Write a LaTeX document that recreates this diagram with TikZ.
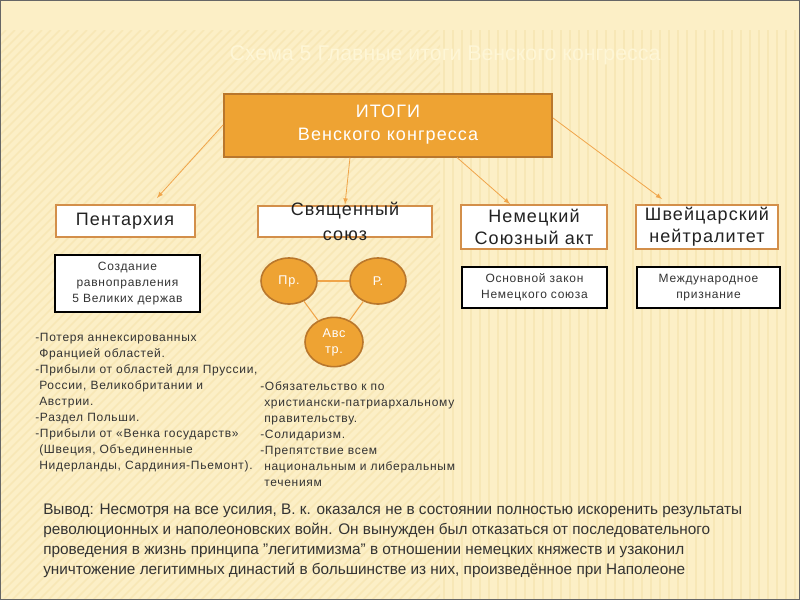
\documentclass[tikz,border=0pt]{standalone}
\usepackage{fontspec}
\setmainfont{Liberation Sans}
\newfontfamily\spaced[LetterSpace=6]{Liberation Sans}
\usepackage{tikz}
\usetikzlibrary{arrows, positioning, shapes.geometric}

\definecolor{paper}{HTML}{FCEFC6}
\definecolor{stripe}{HTML}{F3DEA4}
\definecolor{faint}{HTML}{FEF6D6}
\definecolor{boxfill}{HTML}{EEA333}
\definecolor{boxedge}{HTML}{B9772C}
\definecolor{headedge}{HTML}{D38F4A}
\definecolor{linkorange}{HTML}{F0A54A}
\definecolor{textdark}{HTML}{222222}
\definecolor{textgray}{HTML}{333333}

\tikzset{
  mainbox/.style={draw=boxedge, line width=1.5pt, fill=boxfill, text=white,
    align=center, inner sep=0pt, font=\spaced\fontsize{13.5}{17.25}\selectfont},
  headbox/.style={draw=headedge, line width=1.5pt, fill=white, text=textdark,
    align=center, inner sep=0pt, font=\spaced\fontsize{13.5}{16.5}\selectfont},
  notebox/.style={draw=black, line width=1.2pt, fill=white, text=textgray,
    align=center, inner sep=0pt, font=\spaced\fontsize{9}{12.2}\selectfont},
  power/.style={ellipse, draw=boxedge, line width=1.2pt, fill=boxfill, text=white,
    minimum width=42pt, minimum height=34.5pt, inner sep=0pt, align=center,
    font=\spaced\fontsize{9.5}{12}\selectfont},
  link/.style={draw=linkorange, line width=0.6pt, -latex},
  ring/.style={draw=linkorange, line width=0.8pt},
  listtext/.style={anchor=north west, align=left, inner sep=0pt, text=textgray,
    font=\spaced\fontsize{9}{12}\selectfont},
  streak/.style={draw=stripe, line width=1.1pt, opacity=0.45},
}

\begin{document}
\begin{tikzpicture}[x=0.75pt, y=-0.75pt]
% the background of the slide
\useasboundingbox (0,0) rectangle (800,600);
\fill[paper] (0,0) rectangle (800,600);
\begin{scope}
  \clip (0,30) rectangle (440,600);
  \foreach \i in {-600,-591,...,440}
    \draw[streak] (\i,600) -- ++(570,-570);
\end{scope}
\begin{scope}
  \clip (440,30) rectangle (800,600);
  \foreach \i in {444,453,...,800}
    \draw[streak] (\i,30) -- (\i,600);
\end{scope}
\draw[gray!80!black, line width=1pt] (0,0) rectangle (800,600);
% the faint title
\node[text=faint, font=\fontsize{16}{18}\selectfont] (title) at (445,55)
  {Схема 5 Главные итоги Венского конгресса};
% the main box
\node[mainbox, minimum width=246pt, minimum height=47.25pt] (main) at (388,125)
  {ИТОГИ\\Венского конгресса};
% the four headings
\node[headbox, minimum width=104.25pt, minimum height=24pt] (pent) at (125,221) {Пентархия};
\node[headbox, minimum width=130.5pt, minimum height=23.25pt,
  label={[align=center, text=textdark, font=\spaced\fontsize{13.5}{18.75}\selectfont]center:Священный\\союз}]
  (holy) at (345,221) {};
\node[headbox, minimum width=109.5pt, minimum height=33pt] (germ) at (534,227) {Немецкий\\Союзный акт};
\node[headbox, minimum width=106.5pt, minimum height=33pt] (swiss) at (707,227) {Швейцарский\\нейтралитет};
% the notes under the headings
\node[notebox, minimum width=108.75pt, minimum height=42.75pt] (equal) at (127.5,283.5)
  {Создание\\равноправления\\5 Великих держав};
\node[notebox, minimum width=108.75pt, minimum height=30.75pt] (law) at (534.5,287.5)
  {Основной закон\\Немецкого союза};
\node[notebox, minimum width=107.25pt, minimum height=30.75pt] (recog) at (708.5,287.5)
  {Международное\\признание};
% the three powers of the Holy Alliance
\node[power] (pr) at (289,281) {Пр.};
\node[power] (ru) at (378,281) {Р.};
\node[power, minimum width=43.5pt, minimum height=37pt] (au) at (334,342) {Авс\\тр.};
\foreach \a/\b in {pr/ru, pr/au, ru/au}
  \draw[ring] (\a) -- (\b);
% the arrows from the main box
\draw[link] (main.west) -- ([xshift=24pt, yshift=4.5pt]pent.north);
\draw[link] ([xshift=-28.5pt]main.south) -- (holy.north);
\draw[link] ([xshift=51.75pt]main.south) -- ([xshift=-18pt]germ.north);
\draw[link] ([yshift=5.25pt]main.east) -- ([xshift=-33.75pt, yshift=3.75pt]swiss.north);
% the lists
\node[listtext] (gains) at (35,333)
  {-Потеря аннексированных\\
   \phantom{-}Францией областей.\\
   -Прибыли от областей для Пруссии,\\
   \phantom{-}России, Великобритании и\\
   \phantom{-}Австрии.\\
   -Раздел Польши.\\
   -Прибыли от «Венка государств»\\
   \phantom{-}(Швеция, Объединенные\\
   \phantom{-}Нидерланды, Сардиния-Пьемонт).};
\node[listtext] (duty) at (260,381)
  {-Обязательство к по\\
   \phantom{-}христиански-патриархальному\\
   \phantom{-}правительству.\\
   -Солидаризм.\\
   -Препятствие всем\\
   \phantom{-}национальным и либеральным\\
   \phantom{-}течениям};
% the conclusion
\node[anchor=north west, align=left, inner sep=0pt, text=textgray,
  font=\fontsize{11.5}{15}\selectfont] (concl) at (43,504)
  {Вывод: Несмотря на все усилия, В. к. оказался не в состоянии полностью искоренить результаты\\
   революционных и наполеоновских войн. Он вынужден был отказаться от последовательного\\
   проведения в жизнь принципа \symbol{34}легитимизма\symbol{34} в отношении немецких княжеств и узаконил\\
   уничтожение легитимных династий в большинстве из них, произведённое при Наполеоне};
\end{tikzpicture}
\end{document}
